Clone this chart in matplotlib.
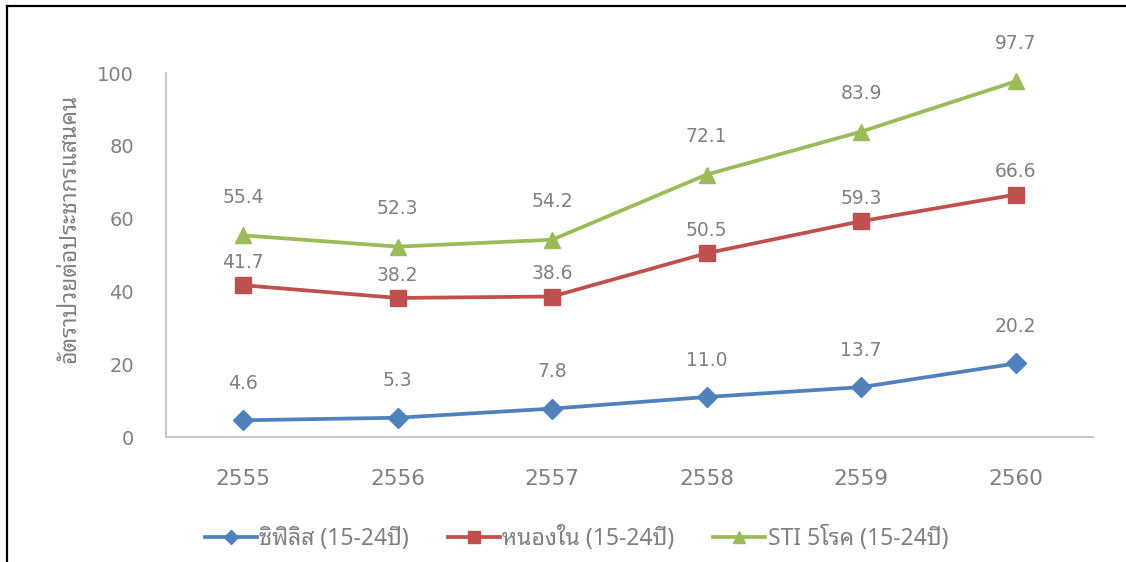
import matplotlib
matplotlib.use("Agg")
import matplotlib.pyplot as plt
from matplotlib.lines import Line2D

THAI = ["Noto Sans Thai Looped", "Noto Sans Thai", "DejaVu Sans"]
NUM = ["DejaVu Sans"]
plt.rcParams["font.family"] = THAI

years = ["2555", "2556", "2557", "2558", "2559", "2560"]
syphilis = [4.6, 5.3, 7.8, 11.0, 13.7, 20.2]
gonorrhea = [41.7, 38.2, 38.6, 50.5, 59.3, 66.6]
sti_5 = [55.4, 52.3, 54.2, 72.1, 83.9, 97.7]

series_names = ["ซิฟิลิส (15-24ปี)", "หนองใน (15-24ปี)", "STI 5โรค (15-24ปี)"]
y_label = "อัตราป่วยต่อประชากรแสนคน"

TEXT_GRAY = "#808080"
AXIS_GRAY = "#c6c6c6"

fig = plt.figure(figsize=(11.26, 5.62), dpi=100)
ax = fig.add_axes([0.1474, 0.2224, 0.8233, 0.6477])

x = range(len(years))
# values, colour, marker, marker size, label offset (pt)
styles = [
    (syphilis, "#4f81bd", "D", 10, 26.5),
    (gonorrhea, "#c0504d", "s", 12, 16.5),
    (sti_5, "#9bbb59", "^", 12, 27.5),
]
for (values, color, marker, ms, dy), name in zip(styles, series_names):
    ax.plot(x, values, color=color, marker=marker, markersize=ms, lw=2.7,
            label=name, zorder=3)
    for xi, v in zip(x, values):
        ax.annotate(f"{v:.1f}", (xi, v), xytext=(0, dy), textcoords="offset points",
                    ha="center", va="center", fontsize=13.5, color=TEXT_GRAY,
                    family=NUM, zorder=5)

ax.set_xlim(-0.5, len(years) - 0.5)
ax.set_ylim(0, 100)
ax.set_yticks(range(0, 101, 20))
ax.set_xticks(list(x))
ax.set_xticklabels(years)

for side in ("top", "right"):
    ax.spines[side].set_visible(False)
for side in ("left", "bottom"):
    ax.spines[side].set_color(AXIS_GRAY)
    ax.spines[side].set_linewidth(1.4)

ax.tick_params(axis="y", length=0, pad=23, labelsize=14, labelcolor=TEXT_GRAY)
ax.tick_params(axis="x", length=0, pad=23, labelsize=15.5, labelcolor=TEXT_GRAY)
for lab in ax.get_xticklabels() + ax.get_yticklabels():
    lab.set_family(NUM)

ax.set_ylabel(y_label, fontsize=16.5, color=TEXT_GRAY)
ax.yaxis.set_label_coords(-0.091, 0.574)

fig.legend(loc="center", bbox_to_anchor=(0.512, 0.041), ncol=3, frameon=False,
           fontsize=16.5, labelcolor=TEXT_GRAY, handlelength=2.27,
           handletextpad=0.1, columnspacing=1.7, markerscale=0.7)

# frame around the chart (left and top edges)
fig.add_artist(Line2D([7 / 1126, 7 / 1126], [0, 1 - 6 / 562], color="black",
                      lw=1.6, transform=fig.transFigure))
fig.add_artist(Line2D([7 / 1126, 1], [1 - 6 / 562, 1 - 6 / 562], color="black",
                      lw=1.6, transform=fig.transFigure))

fig.savefig("out.png", dpi=100)
